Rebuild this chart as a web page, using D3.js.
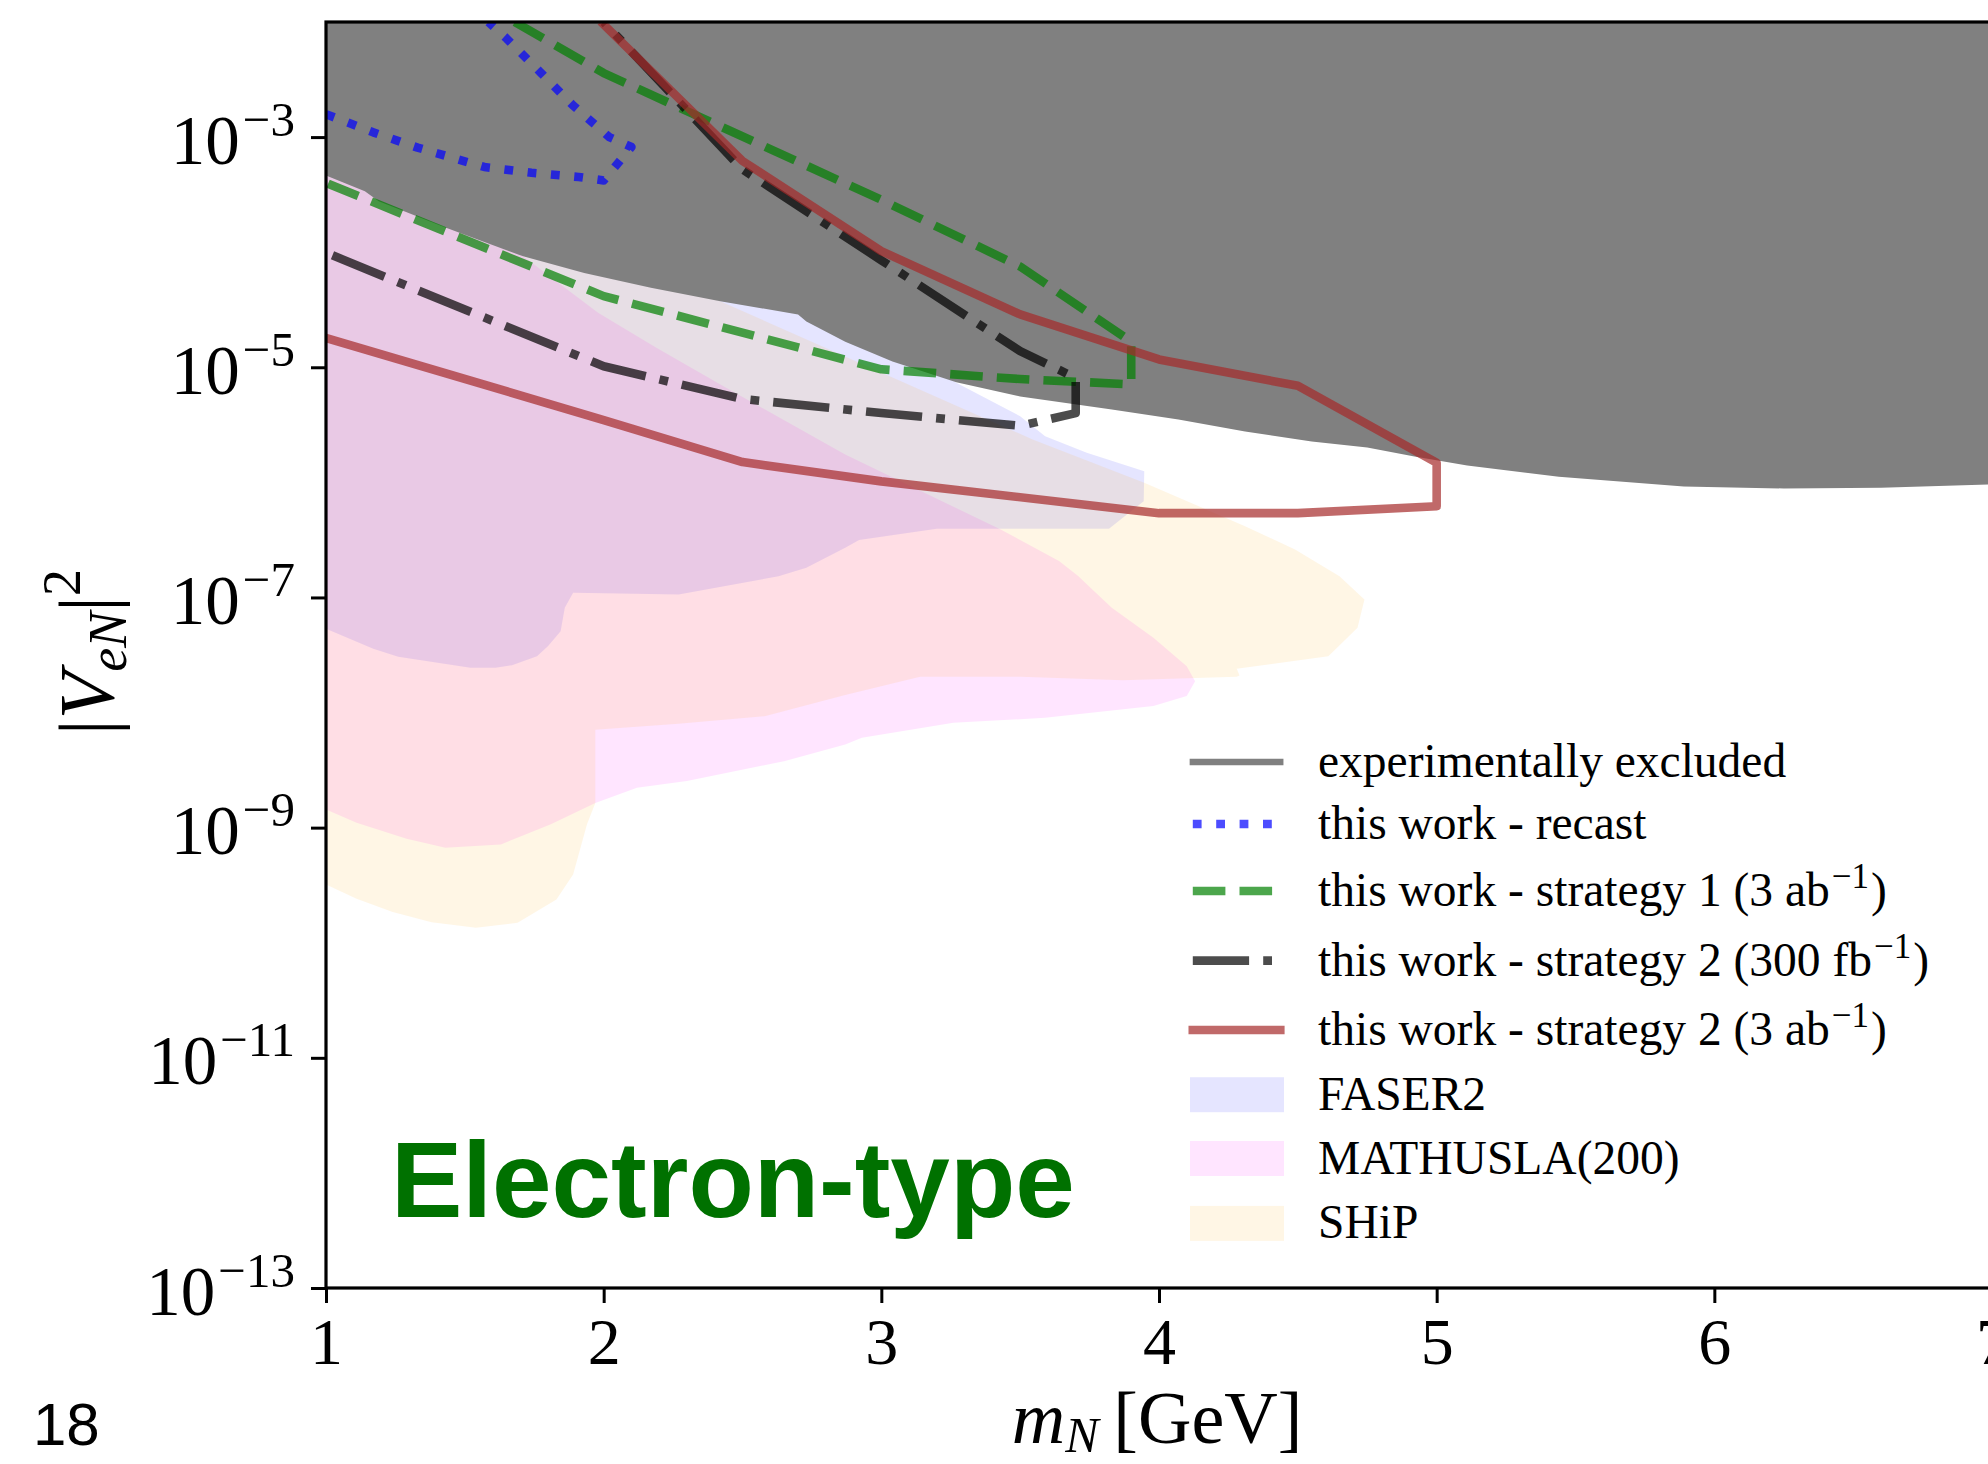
<!DOCTYPE html>
<html>
<head>
<meta charset="utf-8">
<script src="https://cdn.jsdelivr.net/npm/d3@7"></script>
<style>
  html, body { margin: 0; padding: 0; background: #ffffff; }
  svg { display: block; }
</style>
</head>
<body>
<svg id="chart" width="1988" height="1464"></svg>
<script>
// Heavy neutral lepton reach, electron mixing: |V_eN|^2 against m_N [GeV]

// Lower edge of the experimentally excluded band, [m_N, |V_eN|^2]
const excludedBound = [
  [1.00, 4.64e-4], [1.14, 3.39e-4], [1.19, 2.77e-4], [1.43, 1.64e-4], [1.71, 9.2e-5],
  [1.93, 6.6e-5], [2.17, 4.9e-5], [2.42, 3.75e-5], [2.70, 2.88e-5], [2.73, 2.5e-5],
  [2.87, 1.67e-5], [3.04, 1.12e-5], [3.27, 7.4e-6], [3.50, 5.57e-6], [3.83, 4.3e-6],
  [4.07, 3.52e-6], [4.31, 2.77e-6], [4.55, 2.26e-6], [4.75, 2.01e-6], [4.92, 1.68e-6],
  [5.11, 1.40e-6], [5.44, 1.12e-6], [5.89, 9.2e-7], [6.25, 8.85e-7], [6.60, 9.0e-7],
  [7.00, 9.6e-7]
];

// Recast sensitivity contour
const recastContour = [
  [1.00, 1.58e-3], [1.17, 1.10e-3], [1.33, 8.1e-4], [1.57, 5.5e-4], [1.74, 4.9e-4],
  [1.91, 4.5e-4], [2.00, 4.2e-4], [2.10, 8.2e-4], [2.02, 1.0e-3], [1.89, 1.88e-3],
  [1.77, 3.7e-3], [1.65, 7.2e-3], [1.585, 1.0e-2]
];

// Strategy 1, 3 ab^-1
const strategy1Contour = [
  [1.68, 1.0e-2], [2.0, 3.6e-3], [3.0, 2.85e-4], [3.5, 7.5e-5], [3.9, 1.67e-5],
  [3.9, 7.1e-6], [3.5, 7.9e-6], [3.0, 9.6e-6], [2.0, 4.15e-5], [1.0, 4.0e-4]
];

// Strategy 2, 300 fb^-1
const strategy2LowLumi = [
  [2.0, 1.0e-2], [2.5, 5.24e-4], [3.0, 8.5e-5], [3.5, 1.38e-5], [3.7, 8.1e-6],
  [3.7, 4.0e-6], [3.5, 3.1e-6], [3.0, 4.0e-6], [2.5, 5.3e-6], [2.0, 1.02e-5],
  [1.0, 9.9e-5]
];

// Strategy 2, 3 ab^-1
const strategy2HighLumi = [
  [2.0, 9.5e-3], [2.5, 6.2e-4], [3.0, 1.02e-4], [3.5, 2.88e-5], [4.0, 1.17e-5],
  [4.5, 6.9e-6], [5.0, 1.48e-6], [5.0, 6.2e-7], [4.5, 5.4e-7], [4.0, 5.4e-7],
  [3.0, 1.02e-6], [2.5, 1.5e-6], [2.0, 3.48e-6], [1.0, 1.8e-5]
];

// Projected reach of other experiments (closed regions)
const faser2Region = [
  [1.0, 5.35e-8], [1.17, 3.58e-8], [1.26, 3.05e-8], [1.52, 2.45e-8], [1.61, 2.45e-8],
  [1.67, 2.58e-8], [1.76, 3.09e-8], [1.80, 3.78e-8], [1.845, 5.09e-8], [1.86, 8.13e-8],
  [1.89, 1.10e-7], [2.27, 1.06e-7], [2.63, 1.53e-7], [2.73, 1.81e-7], [2.87, 2.70e-7],
  [2.92, 3.15e-7], [3.20, 3.95e-7], [3.82, 3.95e-7], [3.945, 6.87e-7], [3.947, 1.25e-6],
  [3.74, 1.81e-6], [3.59, 2.52e-6], [3.50, 3.76e-6], [3.27, 7.33e-6], [3.07, 1.75e-5],
  [2.71, 4.74e-5], [2.35, 9.5e-5], [1.99, 2.13e-4], [1.45, 6.38e-4], [1.0, 1.42e-3]
];

const mathuslaRegion = [
  [1.0, 9.5e-4], [1.45, 2.87e-4], [1.71, 9.2e-5], [1.98, 2.97e-5], [2.19, 1.48e-5],
  [2.43, 6.86e-6], [2.87, 1.75e-6], [3.23, 6.65e-7], [3.43, 3.90e-7], [3.64, 2.07e-7],
  [3.71, 1.53e-7], [3.76, 1.17e-7], [3.83, 8.15e-8], [3.98, 4.47e-8], [4.10, 2.53e-8],
  [4.13, 1.87e-8], [4.10, 1.39e-8], [3.98, 1.14e-8], [3.59, 9.0e-9], [3.26, 8.15e-9],
  [2.93, 6.04e-9], [2.87, 5.28e-9], [2.65, 3.78e-9], [2.30, 2.54e-9], [2.12, 2.22e-9],
  [1.97, 1.64e-9], [1.81, 1.07e-9], [1.63, 7.14e-10], [1.43, 6.68e-10], [1.29, 8.0e-10],
  [1.11, 1.10e-9], [1.0, 1.44e-9]
];

const shipRegion = [
  [1.0, 9.5e-4], [1.45, 3.17e-4], [1.99, 9.5e-5], [2.42, 3.75e-5], [3.545, 2.36e-6],
  [3.947, 9.93e-7], [4.31, 4.16e-7], [4.49, 2.61e-7], [4.65, 1.53e-7], [4.74, 9.6e-8],
  [4.715, 5.46e-8], [4.61, 3.09e-8], [4.28, 2.40e-8], [4.29, 2.10e-8], [4.28, 2.05e-8],
  [3.87, 1.91e-8], [3.50, 2.05e-8], [3.14, 2.05e-8], [2.87, 1.42e-8], [2.58, 9.3e-9],
  [2.27, 8.0e-9], [1.97, 7.1e-9], [1.97, 1.64e-9], [1.94, 1.07e-9], [1.89, 3.92e-10],
  [1.83, 2.38e-10], [1.69, 1.49e-10], [1.54, 1.35e-10], [1.38, 1.51e-10], [1.24, 1.85e-10],
  [1.11, 2.41e-10], [1.0, 3.21e-10]
];

// Axis ticks
const xTicks = [1, 2, 3, 4, 5, 6, 7];
const yTickExponents = [-3, -5, -7, -9, -11, -13];

// ---------------------------------------------------------------------------
const SERIF = "'Liberation Serif', 'Times New Roman', serif";
const SANS = "'Liberation Sans', Arial, Helvetica, sans-serif";
const frame = { left: 326, right: 1992, top: 22, bottom: 1288 };

const x = d3.scaleLinear().domain([1, 7]).range([frame.left, frame.right]);
const y = d3.scaleLog().domain([1e-13, 1e-2]).range([frame.bottom, frame.top]);

const svg = d3.select('#chart');
svg.append('rect').attr('width', 1988).attr('height', 1464).attr('fill', '#ffffff');

svg.append('defs').append('clipPath').attr('id', 'plotArea')
  .append('rect')
  .attr('x', frame.left).attr('y', frame.top)
  .attr('width', frame.right - frame.left).attr('height', frame.bottom - frame.top);

const plot = svg.append('g').attr('clip-path', 'url(#plotArea)');

const closedShape = d3.line().x(d => x(d[0])).y(d => y(d[1])).curve(d3.curveLinearClosed);
const openPath = d3.line().x(d => x(d[0])).y(d => y(d[1]));

// Translucent reach regions of other experiments
const regions = [
  { data: faser2Region, color: 'blue' },
  { data: mathuslaRegion, color: 'magenta' },
  { data: shipRegion, color: 'orange' }
];
plot.selectAll('path.region').data(regions).join('path')
  .attr('class', 'region')
  .attr('d', d => closedShape(d.data))
  .attr('fill', d => d.color)
  .attr('fill-opacity', 0.1)
  .attr('stroke', 'none');

// Opaque excluded band from the top of the frame down to its bound
plot.append('path')
  .datum(excludedBound)
  .attr('d', d3.area().x(d => x(d[0])).y0(y(1e-2)).y1(d => y(d[1])))
  .attr('fill', '#808080');

// Sensitivity contours
const LW = 8.6;
const curves = [
  { data: recastContour, color: 'blue', dash: '8.8,14.6', cap: 'butt', offset: 0 },
  { data: strategy1Contour, color: 'green', dash: '32.6,14.1', cap: 'butt', offset: 0 },
  { data: strategy2LowLumi, color: 'black', dash: '56.3,14.1,8.8,14.1', cap: 'butt', offset: 53 },
  { data: strategy2HighLumi, color: 'brown', dash: null, cap: 'square', offset: 0 }
];
plot.selectAll('path.curve').data(curves).join('path')
  .attr('class', 'curve')
  .attr('d', d => openPath(d.data))
  .attr('fill', 'none')
  .attr('stroke', d => d.color)
  .attr('stroke-opacity', 0.7)
  .attr('stroke-width', LW)
  .attr('stroke-linejoin', 'round')
  .attr('stroke-linecap', d => d.cap)
  .attr('stroke-dasharray', d => d.dash)
  .attr('stroke-dashoffset', d => d.offset);

// Axes
const xAxis = svg.append('g')
  .attr('transform', `translate(0,${frame.bottom})`)
  .call(d3.axisBottom(x).tickValues(xTicks).tickSize(15).tickPadding(14).tickFormat(d3.format('d')));
xAxis.select('.domain').remove();
xAxis.selectAll('.tick line').attr('stroke', '#000').attr('stroke-width', 3);
xAxis.selectAll('.tick text')
  .attr('font-family', SERIF).attr('font-size', 66).attr('fill', '#000');

const yAxis = svg.append('g')
  .attr('transform', `translate(${frame.left},0)`)
  .call(d3.axisLeft(y).tickValues(yTickExponents.map(e => Math.pow(10, e))).tickSize(15).tickFormat(''));
yAxis.select('.domain').remove();
yAxis.selectAll('.tick line').attr('stroke', '#000').attr('stroke-width', 3);
yAxis.selectAll('.tick text').remove();
yAxis.selectAll('.tick').each(function (d) {
  const e = Math.round(Math.log10(d));
  const label = d3.select(this).append('text')
    .attr('x', -31).attr('y', 26)
    .attr('text-anchor', 'end')
    .attr('font-family', SERIF).attr('font-size', 69).attr('fill', '#000');
  label.append('tspan').text('10');
  label.append('tspan').attr('dx', 3).attr('dy', -28).attr('font-size', 49).text('\u2212' + Math.abs(e));
});

// Frame
svg.append('rect')
  .attr('x', frame.left).attr('y', frame.top)
  .attr('width', frame.right - frame.left).attr('height', frame.bottom - frame.top)
  .attr('fill', 'none').attr('stroke', '#000').attr('stroke-width', 3.2);

// Axis titles
const xTitle = svg.append('text')
  .attr('x', 1157).attr('y', 1443)
  .attr('text-anchor', 'middle')
  .attr('font-family', SERIF).attr('font-size', 74).attr('fill', '#000');
xTitle.append('tspan').attr('font-style', 'italic').text('m');
xTitle.append('tspan').attr('font-style', 'italic').attr('font-size', 50).attr('dy', 9).text('N');
xTitle.append('tspan').attr('dy', -9).text('\u2009[GeV]');

const yTitle = svg.append('text')
  .attr('transform', 'translate(113,652) rotate(-90)')
  .attr('text-anchor', 'middle')
  .attr('font-family', SERIF).attr('font-size', 78).attr('fill', '#000');
yTitle.append('tspan').text('|');
yTitle.append('tspan').attr('font-style', 'italic').text('V');
yTitle.append('tspan').attr('font-style', 'italic').attr('font-size', 54).attr('dy', 13).text('eN');
yTitle.append('tspan').attr('dy', -13).text('|');
yTitle.append('tspan').attr('font-size', 54).attr('dy', -33).text('2');

// Legend
const legendRows = [762, 824, 891, 960.6, 1030, 1094.7, 1158.5, 1223.4];
const legendItems = [
  { kind: 'line', color: '#808080', opacity: 1, width: 6.3, dash: null, cap: 'square', text: ['experimentally excluded'] },
  { kind: 'line', color: 'blue', opacity: 0.7, width: LW, dash: '8.8,14.6', cap: 'butt', text: ['this work - recast'] },
  { kind: 'line', color: 'green', opacity: 0.7, width: LW, dash: '32.6,14.1', cap: 'butt', text: ['this work - strategy 1 (3 ab', '\u22121', ')'] },
  { kind: 'line', color: 'black', opacity: 0.7, width: LW, dash: '56.3,14.1,8.8,14.1', cap: 'butt', text: ['this work - strategy 2 (300 fb', '\u22121', ')'] },
  { kind: 'line', color: 'brown', opacity: 0.7, width: LW, dash: null, cap: 'square', text: ['this work - strategy 2 (3 ab', '\u22121', ')'] },
  { kind: 'patch', color: 'blue', text: ['FASER2'] },
  { kind: 'patch', color: 'magenta', text: ['MATHUSLA(200)'] },
  { kind: 'patch', color: 'orange', text: ['SHiP'] }
];

const legend = svg.append('g');
legendItems.forEach((item, i) => {
  const cy = legendRows[i];
  if (item.kind === 'line') {
    legend.append('line')
      .attr('x1', 1192.8).attr('x2', 1280.3).attr('y1', cy).attr('y2', cy)
      .attr('stroke', item.color).attr('stroke-opacity', item.opacity)
      .attr('stroke-width', item.width).attr('stroke-linecap', item.cap)
      .attr('stroke-dasharray', item.dash);
  } else {
    legend.append('rect')
      .attr('x', 1190).attr('y', cy - 17.5).attr('width', 94).attr('height', 35)
      .attr('fill', item.color).attr('fill-opacity', 0.1);
  }
  const t = legend.append('text')
    .attr('x', 1318).attr('y', cy + 15)
    .attr('font-family', SERIF).attr('font-size', 47.5).attr('fill', '#000');
  t.append('tspan').text(item.text[0]);
  if (item.text.length > 1) {
    t.append('tspan').attr('font-size', 35).attr('dx', 2).attr('dy', -18).text(item.text[1]);
    t.append('tspan').attr('dx', 2).attr('dy', 18).text(item.text[2]);
  }
});

// Panel caption and slide number
svg.append('text')
  .attr('x', 391).attr('y', 1217)
  .attr('font-family', SANS).attr('font-weight', 'bold').attr('font-size', 107)
  .attr('fill', '#007100')
  .text('Electron-type');

svg.append('text')
  .attr('x', 33).attr('y', 1445)
  .attr('font-family', SANS).attr('font-size', 60).attr('fill', '#000')
  .text('18');
</script>
</body>
</html>
